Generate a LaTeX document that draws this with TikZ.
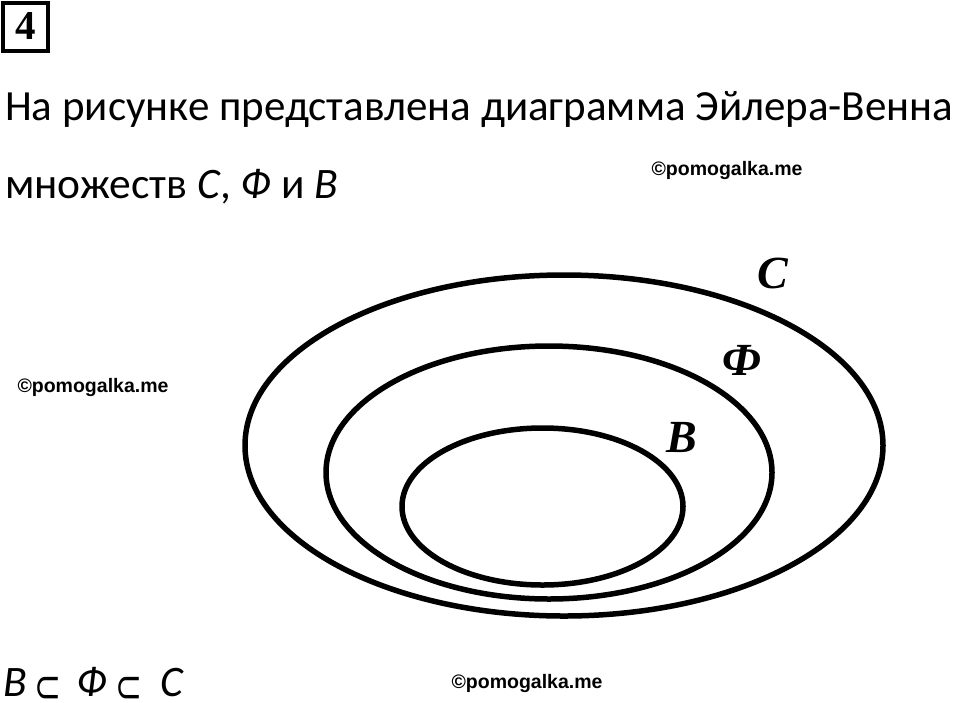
\documentclass[tikz,border=0pt]{standalone}
\usepackage{fontspec}
\setmainfont{Carlito}
\newfontfamily\markfont{Liberation Sans}
\newfontfamily\setfont{Liberation Serif}
\newfontfamily\symfont{DejaVu Sans}
\usetikzlibrary{shapes.geometric}
\tikzstyle{ring} = [draw, ellipse, line width=5.5pt, inner sep=0pt]
\tikzstyle{textline} = [anchor=base west, inner sep=0pt,
	font=\fontsize{43.5}{43.5}\selectfont]
\tikzstyle{glyph} = [anchor=base, inner sep=0pt, text depth=0pt,
	font=\itshape\fontsize{43.5}{43.5}\selectfont]
\tikzstyle{subset} = [anchor=base, inner sep=0pt, text depth=0pt, yshift=-6pt,
	font=\symfont\fontsize{46}{46}\selectfont]
\tikzstyle{setname} = [inner sep=0pt,
	font=\setfont\bfseries\itshape\fontsize{46}{46}\selectfont]
\tikzstyle{wmark} = [inner sep=0pt,
	font=\markfont\bfseries\fontsize{19.5}{19.5}\selectfont]
\newcommand{\sub}{\scalebox{0.7}[1]{⊂}}

\begin{document}
\begin{tikzpicture}[x=1pt, y=-1pt]
	\useasboundingbox (0,0) rectangle (960,702);
	
	\node (num) [draw, line width=4pt, minimum width=45pt, minimum height=48pt, inner sep=0pt,
		font=\setfont\bfseries\fontsize{41}{41}\selectfont] at (25.5,26.5) {4};
	
	\node (line1) [textline, font=\fontsize{43}{43}\selectfont] at (5,120) {На рисунке представлена диаграмма Эйлера-Венна};
	\node (line2) [textline] at (5,198) {множеств \textit{C}, \textit{Ф} и \textit{B}};
	
	% nested sets
	\node (C) [ring, minimum width=638pt, minimum height=341pt] at (564,445.5) {};
	\node (F) [ring, minimum width=446pt, minimum height=253pt] at (549,472.5) {};
	\node (B) [ring, minimum width=281pt, minimum height=157pt] at (542.5,506.5) {};
	
	\node (labC) [setname] at (773,273) {C};
	\node (labF) [setname] at (742,360) {Ф};
	\node (labB) [setname] at (682,437) {B};
	
	% B sub F sub C
	\node (incB) [glyph] at (15,696) {B};
	\node (sub1) [subset] at (48,696) {\sub};
	\node (incF) [glyph] at (92,696) {Ф};
	\node (sub2) [subset] at (129,696) {\sub};
	\node (incC) [glyph] at (172,696) {C};
	
	\node (wm1) [wmark] at (727,170) {©pomogalka.me};
	\node (wm2) [wmark] at (93,387) {©pomogalka.me};
	\node (wm3) [wmark] at (527,683) {©pomogalka.me};
\end{tikzpicture}
\end{document}
